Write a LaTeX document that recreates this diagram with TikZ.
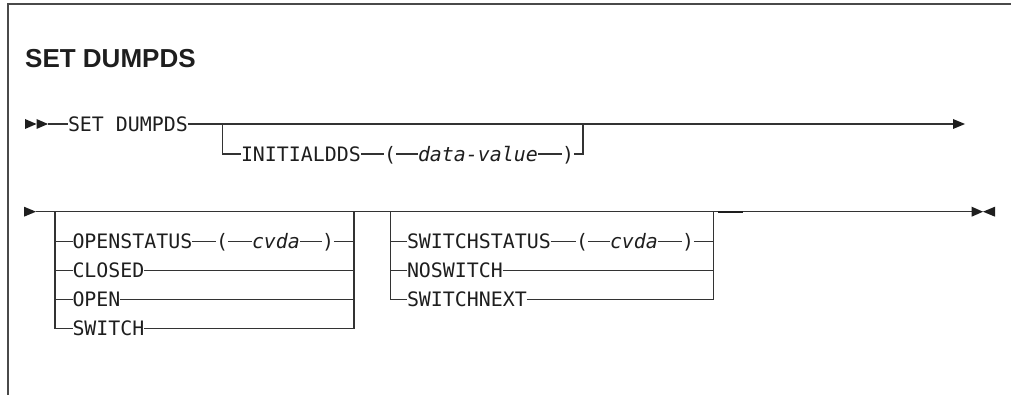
\documentclass[tikz,border=0pt]{standalone}
\usepackage{fontspec}
\newfontfamily\diagfam{DejaVu Sans Mono}
\newfontfamily\titlefam{Liberation Sans}
\definecolor{ln}{HTML}{333333}
\definecolor{txt}{HTML}{1E1E1E}
\definecolor{frame}{HTML}{4A4A4A}
\tikzset{
  lbl/.style={anchor=base west, inner sep=0pt, outer sep=0pt, text=txt,
              font=\diagfam\fontsize{19.9}{20}\selectfont},
  ilbl/.style={lbl, font=\diagfam\itshape\fontsize{19.9}{20}\selectfont},
  ln/.style={draw=ln, line width=1.2pt},
  tip/.style={fill=txt}
}
\begin{document}
\begin{tikzpicture}[x=1pt,y=-1pt]
\useasboundingbox (0,0) rectangle (1011,395);
% frame
\draw[line width=2pt, draw=frame] (7.5,395) -- (7.5,4.5) -- (1011,4.5);
% title
\node[anchor=base west, inner sep=0pt, text=txt, font=\titlefam\bfseries\fontsize{26}{27}\selectfont] (title) at (25,68) {SET DUMPDS};

% ---------- row 1 ----------
\coordinate (r1) at (0,124);
\coordinate (r2) at (0,154);
\coordinate (s1) at (48,124);
\coordinate (b1a) at (222.7,124);
\coordinate (b1b) at (583,124);
\coordinate (e1) at (953,124);
\fill[tip] (25,119) -- (36.5,124) -- (25,129) -- cycle;
\fill[tip] (36.5,119) -- (48,124) -- (36.5,129) -- cycle;
\node[lbl] (set) at (68,131.25) {SET DUMPDS};
\draw[ln] (s1) -- (set.west |- r1);
\draw[ln] (set.east |- r1) -- (e1);
\fill[tip] (953,119) -- (965,124) -- (953,129) -- cycle;

\node[lbl] (init) at (241,161.25) {INITIALDDS};
\node[lbl] (lp1) at (384,161.25) {(};
\node[ilbl] (dv) at (418,161.25) {data-value};
\node[lbl] (rp1) at (562,161.25) {)};
\draw[ln] (b1a) |- (init.west |- r2);
\draw[ln] (init.east |- r2) -- (lp1.west |- r2);
\draw[ln] (lp1.east |- r2) -- (dv.west |- r2);
\draw[ln] (dv.east |- r2) -- (rp1.west |- r2);
\draw[ln] (rp1.east |- r2) -| (b1b);

% ---------- row 3 ----------
\coordinate (s3) at (36,211.7);
\coordinate (e3) at (971.7,211.7);
\coordinate (m3a) at (718,211.7);
\coordinate (m3b) at (743,211.7);
\fill[tip] (24,206.7) -- (36,211.7) -- (24,216.7) -- cycle;
\draw[ln] (s3) -- (e3);
\draw[draw=txt, line width=2pt] (m3a) -- (m3b);
\fill[tip] (971.7,206.7) -- (983,211.7) -- (971.7,216.7) -- cycle;
\fill[tip] (995,206.7) -- (983,211.7) -- (995,216.7) -- cycle;

\coordinate (q1) at (0,241.5);
\coordinate (q2) at (0,270.5);
\coordinate (q3) at (0,299.5);
\coordinate (q4) at (0,328.5);

% column 1
\coordinate (c1l) at (55,211.7);
\coordinate (c1r) at (354,211.7);
\node[lbl] (opst) at (72.5,248.75) {OPENSTATUS};
\node[lbl] (lp2) at (216,248.75) {(};
\node[ilbl] (cv1) at (252,248.75) {cvda};
\node[lbl] (rp2) at (322,248.75) {)};
\node[lbl] (closed) at (72.5,277.75) {CLOSED};
\node[lbl] (open) at (72.5,306.75) {OPEN};
\node[lbl] (switch) at (72.5,335.75) {SWITCH};
\draw[ln] (c1l) |- (switch.west |- q4);
\draw[ln] (c1l |- q1) -- (opst.west |- q1);
\draw[ln] (c1l |- q2) -- (closed.west |- q2);
\draw[ln] (c1l |- q3) -- (open.west |- q3);
\draw[ln] (opst.east |- q1) -- (lp2.west |- q1);
\draw[ln] (lp2.east |- q1) -- (cv1.west |- q1);
\draw[ln] (cv1.east |- q1) -- (rp2.west |- q1);
\draw[ln] (rp2.east |- q1) -- (c1r |- q1);
\draw[ln] (closed.east |- q2) -- (c1r |- q2);
\draw[ln] (open.east |- q3) -- (c1r |- q3);
\draw[ln] (switch.east |- q4) -| (c1r);

% column 2
\coordinate (c2l) at (390.7,211.7);
\coordinate (c2r) at (713.3,211.7);
\node[lbl] (swst) at (407,248.75) {SWITCHSTATUS};
\node[lbl] (lp3) at (576,248.75) {(};
\node[ilbl] (cv2) at (610,248.75) {cvda};
\node[lbl] (rp3) at (682,248.75) {)};
\node[lbl] (nosw) at (407,277.75) {NOSWITCH};
\node[lbl] (swnx) at (407,306.75) {SWITCHNEXT};
\draw[ln] (c2l) |- (swnx.west |- q3);
\draw[ln] (c2l |- q1) -- (swst.west |- q1);
\draw[ln] (c2l |- q2) -- (nosw.west |- q2);
\draw[ln] (swst.east |- q1) -- (lp3.west |- q1);
\draw[ln] (lp3.east |- q1) -- (cv2.west |- q1);
\draw[ln] (cv2.east |- q1) -- (rp3.west |- q1);
\draw[ln] (rp3.east |- q1) -- (c2r |- q1);
\draw[ln] (nosw.east |- q2) -- (c2r |- q2);
\draw[ln] (swnx.east |- q3) -| (c2r);
\end{tikzpicture}
\end{document}
